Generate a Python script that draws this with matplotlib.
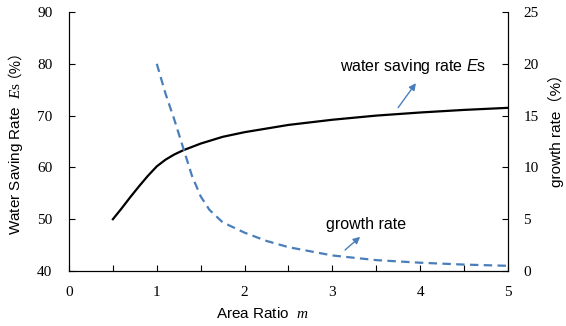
import matplotlib
matplotlib.use('Agg')
import matplotlib.pyplot as plt
from matplotlib.ticker import MultipleLocator

# data
m_es = [0.5, 0.6, 0.7, 0.8, 0.9, 1.0, 1.1, 1.2, 1.3, 1.5, 1.75, 2.0, 2.5, 3.0, 3.5, 4.0, 4.5, 5.0]
es = [50.0, 52.1, 54.3, 56.4, 58.4, 60.2, 61.5, 62.5, 63.3, 64.6, 65.9, 66.8, 68.2, 69.2, 70.0, 70.6, 71.1, 71.5]

m_gr = [1.0, 1.1, 1.2, 1.3, 1.4, 1.5, 1.6, 1.75, 2.0, 2.25, 2.5, 3.0, 3.5, 4.0, 4.5, 5.0]
growth = [20.0, 17.1, 14.6, 11.9, 9.2, 7.2, 5.9, 4.7, 3.7, 2.9, 2.3, 1.5, 1.05, 0.8, 0.62, 0.5]

x_ticks = [0, 1, 2, 3, 4, 5]
left_ticks = [40, 50, 60, 70, 80, 90]
right_ticks = [0, 5, 10, 15, 20, 25]

plt.rcParams['mathtext.fontset'] = 'custom'
plt.rcParams['mathtext.rm'] = 'Liberation Serif'
plt.rcParams['mathtext.it'] = 'Liberation Serif:italic'
plt.rcParams['mathtext.sf'] = 'Liberation Sans:italic'

blue = '#4A7EBB'
sans = ['Liberation Sans', 'Noto Sans CJK SC']
serif = 'Liberation Serif'

fig = plt.figure(figsize=(5.66, 3.26), dpi=100)
ax = fig.add_axes([0.1219, 0.1687, 0.7756, 0.7945])
ax2 = ax.twinx()

ax.plot(m_es, es, color='black', lw=1.6)
ax2.plot(m_gr, growth, color=blue, lw=1.6, dashes=(3.8, 2.4))

ax.set_xlim(0, 5)
ax.set_ylim(40, 90)
ax2.set_ylim(0, 25)
ax.set_xticks(x_ticks)
ax.xaxis.set_minor_locator(MultipleLocator(0.5))
ax.set_yticks(left_ticks)
ax2.set_yticks(right_ticks)

for a in (ax, ax2):
    a.spines['top'].set_visible(False)
    a.tick_params(which='both', direction='in', length=4, width=0.8, labelsize=11)
    for lab in a.get_xticklabels() + a.get_yticklabels():
        lab.set_fontfamily(serif)

ax.tick_params(axis='x', pad=11)
ax.tick_params(axis='y', pad=12)
ax2.tick_params(axis='y', pad=11)

ax.set_xlabel('Area Ratio  $m$', fontsize=11, family=sans)
ax.xaxis.set_label_coords(0.44, -0.135)

# left label: sans text + italic E, then full-width (%) in a CJK font
t1 = fig.text(16 / 566, 0.28, 'Water Saving Rate  $\\mathit{E}\\mathrm{s}$', rotation=90,
              ha='center', va='bottom', fontsize=11, family=sans)
ax.annotate('（%）', xy=(0.5, 1.0), xycoords=t1, xytext=(-7, 3), textcoords='offset points',
            rotation=90, ha='center', va='bottom',
            fontsize=10.5, family=['Noto Sans CJK SC'], annotation_clip=False)

ax2.set_ylabel('growth rate（%）', fontsize=11, family=sans)
ax2.yaxis.set_label_coords(1.09, 0.555)

ax.annotate('water saving rate $\\mathsf{E}$s', xy=(3.97, 76.7), xytext=(3.09, 79.4),
            fontsize=11.5, family=sans, va='center', ha='left')
ax.annotate('', xy=(3.97, 76.7), xytext=(3.73, 71.1),
            arrowprops=dict(arrowstyle='-|>', color=blue, lw=1, mutation_scale=10))
ax.text(2.93, 48.9, 'growth rate', fontsize=11.5, family=sans, va='center', ha='left')
ax.annotate('', xy=(3.34, 46.95), xytext=(3.12, 43.7),
            arrowprops=dict(arrowstyle='-|>', color=blue, lw=1, mutation_scale=10))

fig.savefig('out.png', dpi=100)
